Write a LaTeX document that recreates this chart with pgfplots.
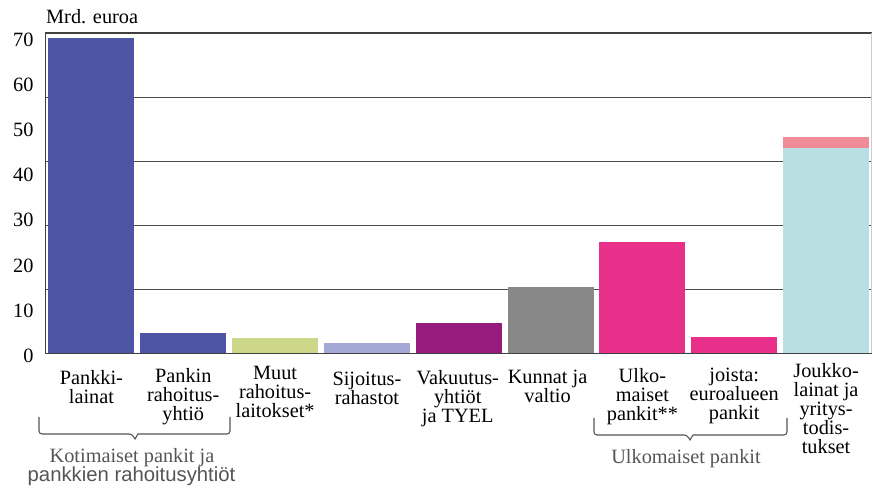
\documentclass[border=0pt]{standalone}
\usepackage{fontspec}
\setmainfont{Liberation Serif}
\newfontfamily\lsans{Liberation Sans}
\usepackage{pgfplots}
\pgfplotsset{compat=1.18}

\definecolor{cPankki}{HTML}{4E55A4}
\definecolor{cMuut}{HTML}{CCD78A}
\definecolor{cSijoitus}{HTML}{A4A8D5}
\definecolor{cVakuutus}{HTML}{951B7D}
\definecolor{cKunnat}{HTML}{888888}
\definecolor{cUlko}{HTML}{E8308A}
\definecolor{cJoukko}{HTML}{B8DFE1}
\definecolor{cJoukkoTop}{HTML}{F08C96}
\definecolor{cGroup}{HTML}{555555}

\newcommand{\chartfont}{\fontsize{20.3}{19}\selectfont}

\begin{document}
\begin{tikzpicture}[catlab/.style={font=\chartfont, align=center, inner sep=0pt, anchor=north}]
\useasboundingbox (-45.5pt,-135.5pt) rectangle (827.5pt,353.5pt);
\begin{axis}[
  at={(0pt,0pt)}, anchor=south west,
  scale only axis,
  width=826.5pt, height=320.5pt,
  xmin=-0.5, xmax=8.5,
  ymin=0, ymax=71,
  ybar, bar width=0.936,
  xtick=\empty,
  ytick={0,10,...,70},
  major tick length=0pt,
  /pgf/number format/assume math mode=true,
  yticklabel style={font=\chartfont, xshift=-8.5pt, yshift=-2.2pt},
  extra y ticks={14.2,28.4,42.6,56.8},
  extra y tick labels={},
  extra y tick style={grid=major, major grid style={black!70, line width=1.1pt}},
  axis line style={draw=none},
  clip=false,
]
% kotimaiset pankit ja niiden rahoitusyhtiot
\addplot[fill=cPankki, draw=none, bar shift=0pt] coordinates {(0,70.0)};
\addplot[fill=cPankki, draw=none, bar shift=0pt] coordinates {(1,4.6)};
\addplot[fill=cMuut, draw=none, bar shift=0pt] coordinates {(2,3.5)};
\addplot[fill=cSijoitus, draw=none, bar shift=0pt] coordinates {(3,2.3)};
\addplot[fill=cVakuutus, draw=none, bar shift=0pt] coordinates {(4,6.8)};
\addplot[fill=cKunnat, draw=none, bar shift=0pt] coordinates {(5,14.8)};
\addplot[fill=cUlko, draw=none, bar shift=0pt] coordinates {(6,24.7)};
\addplot[fill=cUlko, draw=none, bar shift=0pt] coordinates {(7,3.6)};
% joukkolainat: pink top segment under the cyan part
\addplot[fill=cJoukkoTop, draw=none, bar shift=0pt] coordinates {(8,47.9)};
\addplot[fill=cJoukko, draw=none, bar shift=0pt] coordinates {(8,45.6)};

\draw[black!75, line width=1.2pt] (rel axis cs:0,0) -- (rel axis cs:0,1) -- (rel axis cs:1,1);
\draw[black!20, line width=1pt] (rel axis cs:1,1) -- (rel axis cs:1,0);
\draw[black!75, line width=1.8pt] (rel axis cs:0,0) -- (rel axis cs:1,0);

\node[catlab] at ([yshift=-16.5pt]axis cs:0,0) {Pankki-\\lainat};
\node[catlab] at ([yshift=-14.5pt]axis cs:1,0) {Pankin\\rahoitus-\\yhtiö};
\node[catlab] at ([yshift=-12.5pt]axis cs:2,0) {Muut\\rahoitus-\\laitokset*};
\node[catlab] at ([yshift=-18.5pt]axis cs:3,0) {Sijoitus-\\rahastot};
\node[catlab] at ([yshift=-16.5pt,xshift=-1pt]axis cs:4,0) {Vakuutus-\\yhtiöt\\ja TYEL};
\node[catlab] at ([yshift=-16.5pt,xshift=-3pt]axis cs:5,0) {Kunnat ja\\valtio};
\node[catlab] at ([yshift=-14.5pt]axis cs:6,0) {Ulko-\\maiset\\pankit**};
\node[catlab] at ([yshift=-14.5pt]axis cs:7,0) {joista:\\euroalueen\\pankit};
\node[catlab] at ([yshift=-9.5pt]axis cs:8,0) {Joukko-\\lainat ja\\yritys-\\todis-\\tukset};
\end{axis}

% annotations in pixel coordinates of the reference
\begin{scope}[shift={(-45.5pt,353.5pt)}, yscale=-1]
  \node[font=\chartfont, anchor=base west, inner sep=0pt] at (46pt,24pt) {Mrd. euroa};
  \draw[cGroup, line width=1.1pt] (39pt,417pt) [rounded corners=3pt] -- (39pt,434pt) -- (132pt,434pt)
     [sharp corners] -- (135pt,439pt) -- (138pt,434pt) [rounded corners=3pt] -- (230pt,434pt) -- (230pt,417pt);
  \draw[cGroup, line width=1.1pt] (594pt,418pt) [rounded corners=3pt] -- (594pt,435pt) -- (687pt,435pt)
     [sharp corners] -- (690pt,440pt) -- (693pt,435pt) [rounded corners=3pt] -- (787pt,435pt) -- (787pt,418pt);
  \node[font=\chartfont, text=cGroup, anchor=base, inner sep=0pt] at (132pt,463pt) {Kotimaiset pankit ja};
  \node[font=\chartfont\lsans, text=cGroup, anchor=base, inner sep=0pt] at (131.5pt,482pt) {pankkien rahoitusyhtiöt};
  \node[font=\chartfont, text=cGroup, anchor=base, inner sep=0pt] at (686pt,464pt) {Ulkomaiset pankit};
\end{scope}
\end{tikzpicture}
\end{document}
